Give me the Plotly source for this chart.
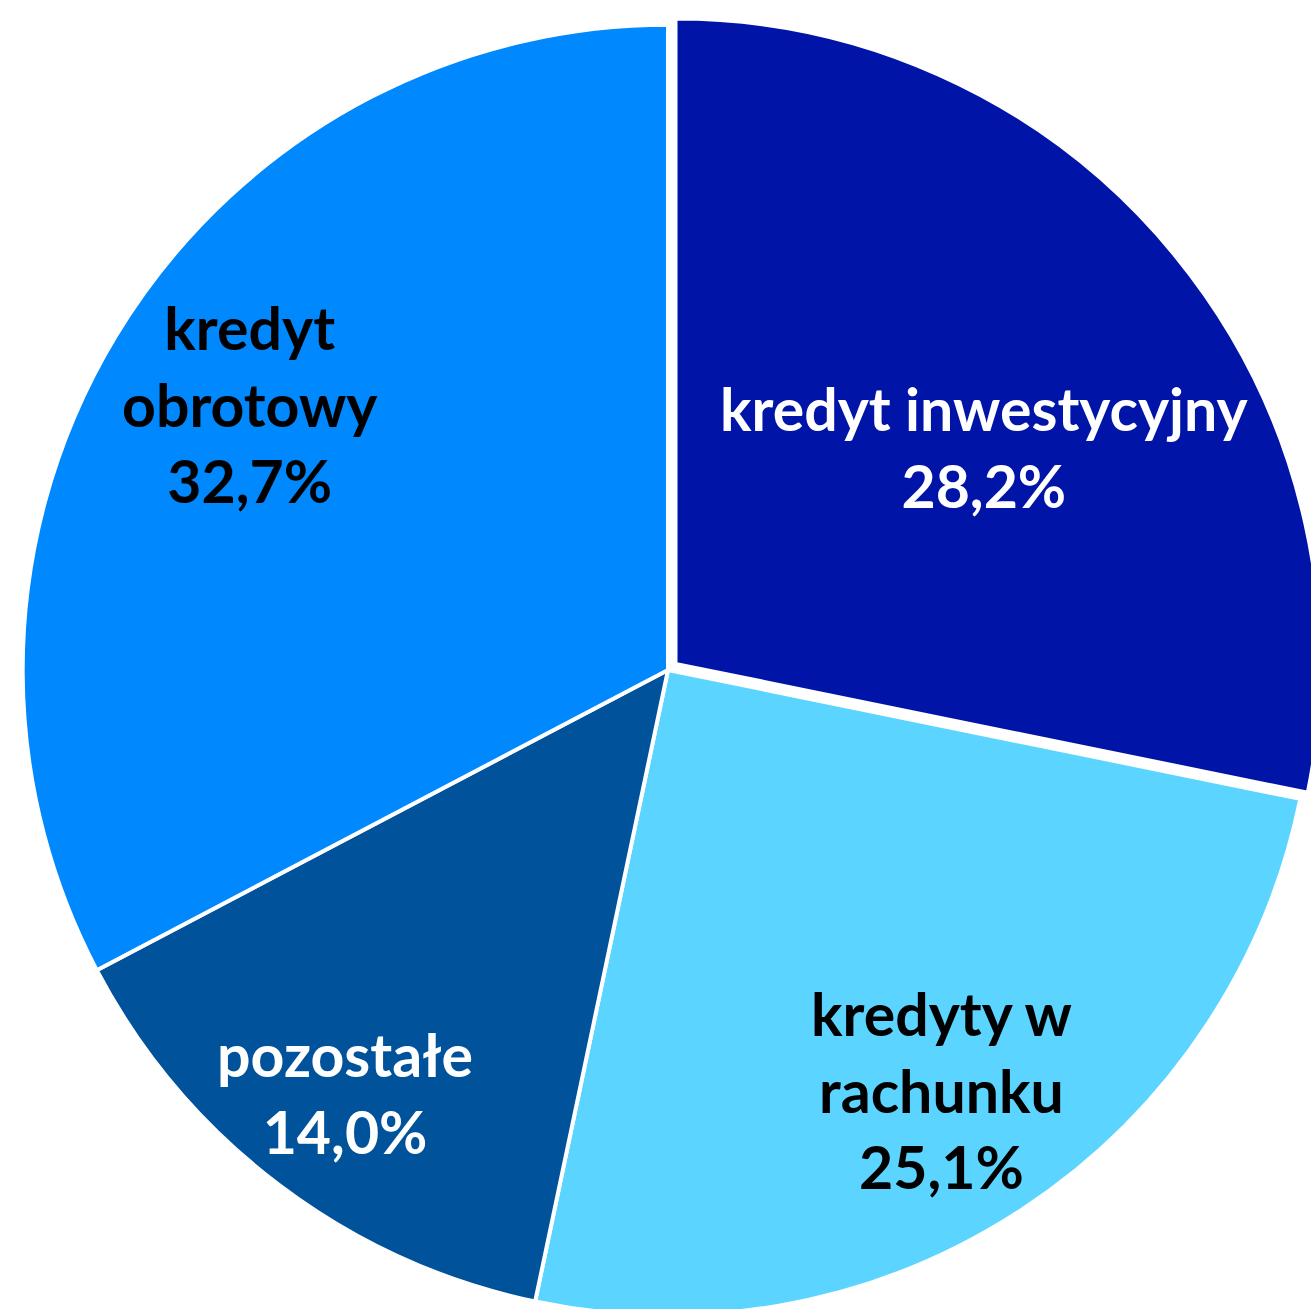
import math
import plotly.graph_objects as go

labels = ["kredyt inwestycyjny", "kredyty w rachunku", "pozostałe", "kredyt obrotowy"]
display_labels = ["kredyt inwestycyjny", "kredyty w<br>rachunku", "pozostałe", "kredyt<br>obrotowy"]
values = [28.2, 25.1, 14.0, 32.7]
value_text = ["28,2%", "25,1%", "14,0%", "32,7%"]
colors = ["#0014A8", "#5BD5FF", "#00529B", "#0088FF"]
text_colors = ["white", "black", "white", "black"]
pulls = [0.015, 0, 0, 0]
# label placement (style): fraction of radius and angular nudge (degrees)
label_radius = [0.584, 0.777, 0.824, 0.767]
label_angle_nudge = [4.2, 0.2, 0.3, 1.3]

W, H = 1340, 1340
dom_x = [13, 1323]     # px from left
dom_y = [15, 1325]     # px from top
fig = go.Figure(go.Pie(
    labels=labels,
    values=values,
    textinfo="none",
    sort=False,
    direction="clockwise",
    rotation=0,
    pull=pulls,
    marker=dict(colors=colors, line=dict(color="white", width=4)),
    hoverinfo="none",
    domain=dict(x=[dom_x[0] / W, dom_x[1] / W], y=[(H - dom_y[1]) / H, (H - dom_y[0]) / H]),
))

# geometry of the pie as plotly lays it out
cx = (dom_x[0] + dom_x[1]) / 2
cy = (dom_y[0] + dom_y[1]) / 2
R = min(dom_x[1] - dom_x[0], dom_y[1] - dom_y[0]) / 2 / (1 + max(pulls))
total = sum(values)
cum = 0.0
for lab, vt, v, col, p, fr, nud in zip(display_labels, value_text, values, text_colors,
                                        pulls, label_radius, label_angle_nudge):
    mid = (cum + v / 2) / total * 360.0
    cum += v
    a = math.radians(mid)
    sx = cx + p * R * math.sin(a)
    sy = cy - p * R * math.cos(a)
    b = math.radians(mid + nud)
    px = sx + fr * R * math.sin(b)
    py = sy - fr * R * math.cos(b)
    fig.add_annotation(
        x=px / W, y=1 - py / H, xref="paper", yref="paper",
        text=f"{lab}<br>{vt}", showarrow=False,
        xanchor="center", yanchor="middle", align="center",
        font=dict(family="Lato", size=59, color=col, weight="bold"),
    )

fig.update_layout(
    width=W, height=H,
    margin=dict(l=0, r=0, t=0, b=0),
    showlegend=False,
    paper_bgcolor="white",
)
fig.write_html("out.html", config={"displayModeBar": False},
               post_script="document.body.style.overflow='hidden';document.documentElement.style.overflow='hidden';document.body.style.margin='0';")
